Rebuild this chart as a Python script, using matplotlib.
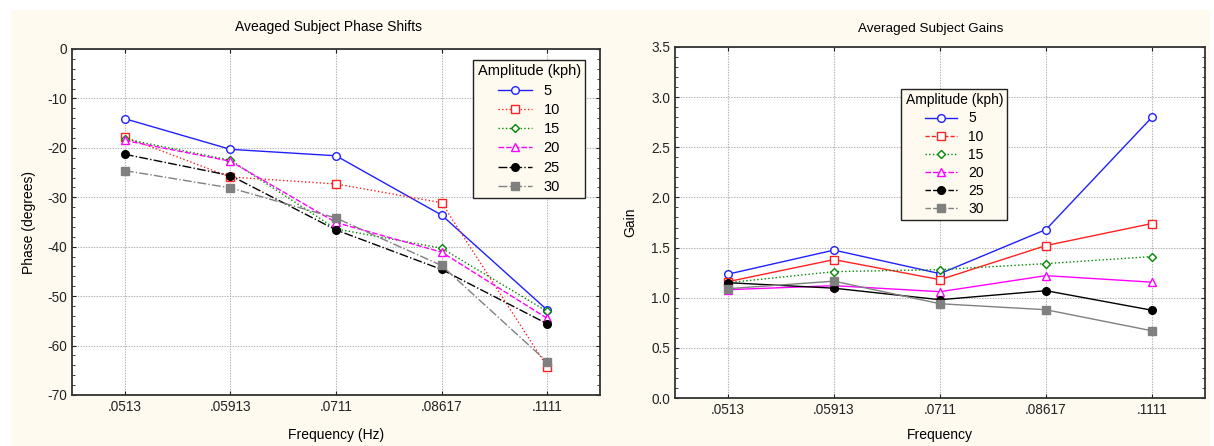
import matplotlib
matplotlib.use("Agg")
import matplotlib.pyplot as plt
from matplotlib.lines import Line2D
from matplotlib.patches import Rectangle
from matplotlib.ticker import MultipleLocator

plt.rcParams["font.family"] = ["Liberation Sans", "DejaVu Sans"]
plt.rcParams["axes.unicode_minus"] = False

freq_labels = [".0513", ".05913", ".0711", ".08617", ".1111"]
amplitudes = ["5", "10", "15", "20", "25", "30"]

# phase shift (degrees) per amplitude
phase = {
    "5":  [-14.1, -20.3, -21.6, -33.6, -52.8],
    "10": [-17.8, -25.9, -27.3, -31.1, -64.3],
    "15": [-18.2, -22.5, -36.4, -40.3, -53.1],
    "20": [-18.5, -22.7, -35.1, -41.1, -54.5],
    "25": [-21.3, -25.6, -36.6, -44.6, -55.6],
    "30": [-24.6, -28.1, -34.2, -43.8, -63.3],
}

# gain per amplitude
gain = {
    "5":  [1.235, 1.475, 1.24, 1.68, 2.80],
    "10": [1.16, 1.38, 1.18, 1.52, 1.74],
    "15": [1.15, 1.26, 1.28, 1.34, 1.41],
    "20": [1.08, 1.12, 1.06, 1.22, 1.155],
    "25": [1.15, 1.095, 0.98, 1.07, 0.875],
    "30": [1.09, 1.165, 0.94, 0.88, 0.67],
}

cream = "#fefaf0"
styles = {
    "5":  dict(color="#2020ff", marker="o", mfc="white", ms=5.5),
    "10": dict(color="#ff2020", marker="s", mfc="white", ms=5.5),
    "15": dict(color="#008800", marker="D", mfc="white", ms=3.8),
    "20": dict(color="#ff00ff", marker="^", mfc="white", ms=5.2),
    "25": dict(color="black", marker="o", mfc="black", ms=5.5),
    "30": dict(color="#808080", marker="s", mfc="#808080", ms=5.5),
}
phase_ls = {"5": "-", "10": ":", "15": ":", "20": (0, (4, 1.5)),
            "25": "-.", "30": "-."}
gain_ls = {"5": "-", "10": "-", "15": ":", "20": "-", "25": "-", "30": "-"}
legend_ls = {"5": "-", "10": (0, (3, 1.5)), "15": ":", "20": (0, (4, 1.5)),
             "25": (0, (4, 1.5)), "30": (0, (4, 1.5))}

fig = plt.figure(figsize=(12.14, 4.46), dpi=100, facecolor="white")
fig.patches.append(Rectangle((11 / 1214, 0), 1199 / 1214, 436 / 446,
                             transform=fig.transFigure, facecolor=cream,
                             edgecolor="none", zorder=-10))

ax1 = fig.add_axes([72 / 1214, 1 - 395 / 446, 528 / 1214, 346 / 446])
ax2 = fig.add_axes([675 / 1214, 1 - 398 / 446, 530 / 1214, 351 / 446])

x = list(range(1, len(freq_labels) + 1))


def style_axes(ax, major, minor):
    ax.set_facecolor("white")
    ax.set_xlim(0.5, 5.5)
    ax.set_xticks(x)
    ax.set_xticklabels(freq_labels)
    ax.yaxis.set_major_locator(MultipleLocator(major))
    ax.yaxis.set_minor_locator(MultipleLocator(minor))
    ax.grid(True, color="#b0b0b0", linestyle=(0, (1.2, 1.2)), linewidth=0.8)
    ax.tick_params(axis="both", which="both", direction="in", top=True,
                   right=True, labelsize=9.8, colors="#222222")
    ax.tick_params(which="major", length=3)
    ax.tick_params(which="minor", length=2)
    for s in ax.spines.values():
        s.set_color("#333333")
        s.set_linewidth(1.3)


for a in amplitudes:
    st = styles[a]
    ax1.plot(x, phase[a], linestyle=phase_ls[a], color=st["color"],
             marker=st["marker"], mfc=st["mfc"], mec=st["color"],
             ms=st["ms"], lw=1.0, mew=1.0)
    ax2.plot(x, gain[a], linestyle=gain_ls[a], color=st["color"],
             marker=st["marker"], mfc=st["mfc"], mec=st["color"],
             ms=st["ms"], lw=1.0, mew=1.0)

style_axes(ax1, 10, 2)
ax1.set_ylim(-70, 0)
style_axes(ax2, 0.5, 0.1)
ax2.set_ylim(0, 3.5)
ax2.yaxis.set_major_formatter(plt.FormatStrFormatter("%.1f"))

ax1.set_title("Aveaged Subject Phase Shifts", fontsize=10, pad=13, x=0.485)
ax2.set_title("Averaged Subject Gains", fontsize=9.7, pad=11, x=0.483)
ax1.set_xlabel("Frequency (Hz)", fontsize=10, labelpad=10)
ax2.set_xlabel("Frequency", fontsize=10, labelpad=8)
ax1.set_ylabel("Phase (degrees)", fontsize=10, labelpad=8)
ax2.set_ylabel("Gain", fontsize=10, labelpad=10)


def handles(ls_map):
    out = []
    for a in amplitudes:
        st = styles[a]
        out.append(Line2D([], [], linestyle=ls_map[a], color=st["color"],
                          marker=st["marker"], mfc=st["mfc"], mec=st["color"],
                          ms=st["ms"], lw=1.0))
    return out


for ax, lsm, anchor, fs, sp in [(ax1, phase_ls, (0.972, 0.968), 10.5, 0.36),
                                (ax2, legend_ls, (0.627, 0.88), 10, 0.3)]:
    leg = ax.legend(handles(lsm), amplitudes, title="Amplitude (kph)",
                    loc="upper right", bbox_to_anchor=anchor, fontsize=fs,
                    title_fontsize=fs, frameon=True, fancybox=False,
                    facecolor=cream, edgecolor="#222222", framealpha=1,
                    handlelength=2.3, handletextpad=0.8, labelspacing=sp,
                    borderpad=0.3, borderaxespad=0)
    leg.get_frame().set_linewidth(1.0)

fig.savefig("out.png", dpi=100, facecolor="white")
